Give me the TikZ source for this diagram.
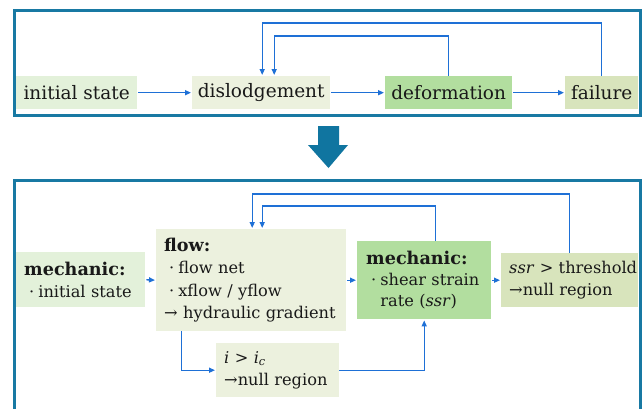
\documentclass[tikz,border=0pt]{standalone}
\usepackage{fontspec}
\setmainfont{DejaVu Serif}
\usetikzlibrary{arrows.meta,calc}
\definecolor{frameC}{RGB}{24,121,163}
\definecolor{arrC}{RGB}{30,112,214}
\definecolor{bigC}{RGB}{16,117,160}
\definecolor{cInit}{RGB}{227,241,218}
\definecolor{cDisl}{RGB}{236,241,222}
\definecolor{cDef}{RGB}{178,222,159}
\definecolor{cFail}{RGB}{216,228,188}
\definecolor{txt}{RGB}{25,25,25}
\newcommand\myBul{\hspace*{5pt}·\hspace*{4pt}}
\newcommand\myInd{\hphantom{\hspace*{5pt}·\hspace*{4pt}}}
\newcommand\myHead[1]{\mbox{\fontsize{17.6}{22.5}\selectfont\bfseries #1}}
\begin{document}
\begin{tikzpicture}[x=1pt,y=-1pt,
  topbox/.style={draw=none, inner sep=0pt, anchor=north west, text=txt,
    font=\fontsize{18.5}{22}\selectfont},
  botbox/.style={draw=none, inner xsep=8pt, inner ysep=0pt, anchor=north west,
    align=left, text=txt, font=\fontsize{16.2}{22.5}\selectfont},
  arr/.style={draw=arrC, line width=1.4pt, -{Triangle[length=6pt,width=5pt]},
    shorten >=1pt, shorten <=1pt},
  frameline/.style={draw=frameC, line width=3pt}]
\useasboundingbox (0,0) rectangle (644,408);
\fill[white] (0,0) rectangle (644,408);

% ---------- top panel ----------
\draw[frameline] (14,10) rectangle (640,115);
\node[topbox, fill=cInit, minimum width=121pt, minimum height=33pt] (init) at (16,76) {initial state};
\node[topbox, fill=cDisl, minimum width=138pt, minimum height=33pt] (disl) at (192,76) {dislodgement};
\node[topbox, fill=cDef, minimum width=127pt, minimum height=33pt] (def) at (385,76) {deformation};
\node[topbox, fill=cFail, minimum width=73pt, minimum height=33pt] (fail) at (565,76) {failure};

\coordinate (yA) at (0,23);
\coordinate (yB) at (0,36);
\draw[arr] (init.east) -- (disl.west);
\draw[arr] (disl.east) -- (def.west);
\draw[arr] (def.east) -- (fail.west);
\draw[arr, shorten <=0pt] (fail.north) -- (fail.north |- yA) -| ([xshift=1pt]disl.north);
\draw[arr, shorten <=0pt] (def.north) -- (def.north |- yB) -| ([xshift=13pt]disl.north);

% ---------- big arrow ----------
\fill[bigC] (318,126) -- (339,126) -- (339,145) -- (348,145) -- (328.5,168)
  -- (308,145) -- (318,145) -- cycle;

% ---------- bottom panel ----------
\draw[frameline] (14,420) -- (14,180) -- (640,180) -- (640,420);

\node[botbox, fill=cInit, text width=113pt, minimum height=55pt] (m1) at (16,252)
  {\myHead{mechanic:}\\\mbox{\myBul initial state}};
\node[botbox, fill=cDisl, text width=174pt, minimum height=102pt] (flow) at (156,229)
  {\myHead{flow:}\\\mbox{\myBul flow net}\\\mbox{\myBul xflow / yflow}\\\mbox{→ hydraulic gradient}};
\node[botbox, fill=cDisl, text width=107pt, minimum height=54pt] (ic) at (216,343)
  {\mbox{\textit{i} > \textit{i}\textsubscript{\textit{c}}}\\\mbox{→null region}};
\node[botbox, fill=cDef, inner xsep=9pt, text width=116pt, minimum height=78pt] (m2) at (357,241)
  {\myHead{mechanic:}\\[-1.5pt]\mbox{\myBul shear strain}\\[-1.5pt]\mbox{\myInd rate (\textit{ssr})}};
\node[botbox, fill=cFail, text width=121pt, minimum height=54pt] (ssr) at (501,253)
  {\mbox{\textit{ssr} > threshold}\\\mbox{→null region}};

\coordinate (yC) at (0,194);
\coordinate (yD) at (0,206);
\draw[arr] (m1.east) -- (flow.west);
\draw[arr] (flow.east) -- (m2.west);
\draw[arr] (m2.east) -- (ssr.west);
\draw[arr, shorten <=0pt] (ssr.north) -- (ssr.north |- yC) -| ([xshift=1pt]flow.north);
\draw[arr, shorten <=0pt] ([xshift=11pt]m2.north) -- ([xshift=11pt]m2.north |- yD) -| ([xshift=11pt]flow.north);
\draw[arr, shorten <=0pt] ([xshift=-70pt]flow.south) |- (ic.west);
\draw[arr, shorten <=0pt] (ic.east) -| (m2.south);
\end{tikzpicture}
\end{document}
